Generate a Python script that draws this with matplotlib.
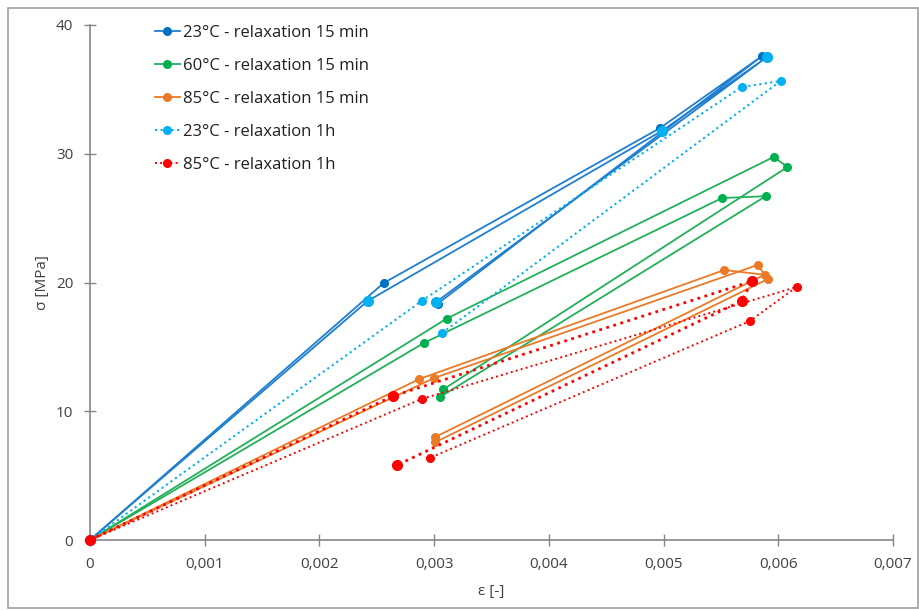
import matplotlib
matplotlib.use("Agg")
import matplotlib.pyplot as plt
from matplotlib.ticker import FuncFormatter, MultipleLocator
from matplotlib.patches import Rectangle

plt.rcParams['font.family'] = ['Open Sans', 'DejaVu Sans']

# 23°C - relaxation 15 min (two cycles)
eps_23_15_a = [0, 0.00256, 0.00497, 0.00586, 0.00303]
sig_23_15_a = [0, 19.96, 32.0, 37.6, 18.35]
eps_23_15_b = [0, 0.00242, 0.00499, 0.00590, 0.00302]
sig_23_15_b = [0, 18.56, 31.8, 37.5, 18.5]

# 60°C - relaxation 15 min
eps_60_15_a = [0, 0.00291, 0.00551, 0.00589, 0.00305]
sig_60_15_a = [0, 15.3, 26.56, 26.7, 11.1]
eps_60_15_b = [0, 0.00311, 0.00596, 0.00608, 0.00308]
sig_60_15_b = [0, 17.2, 29.75, 28.97, 11.7]

# 85°C - relaxation 15 min
eps_85_15_a = [0, 0.00287, 0.00553, 0.00588, 0.00301]
sig_85_15_a = [0, 12.5, 20.97, 20.6, 8.0]
eps_85_15_b = [0, 0.00300, 0.00582, 0.00591, 0.00301]
sig_85_15_b = [0, 12.58, 21.36, 20.27, 7.6]

# 23°C - relaxation 1h
eps_23_1h = [0, 0.00289, 0.00568, 0.00602, 0.00307]
sig_23_1h = [0, 18.56, 35.18, 35.65, 16.08]

# 85°C - relaxation 1h (two cycles)
eps_85_1h_a = [0, 0.00264, 0.00577, 0.00568, 0.00268]
sig_85_1h_a = [0, 11.18, 20.1, 18.56, 5.83]
eps_85_1h_b = [0, 0.00289, 0.00616, 0.00575, 0.00296]
sig_85_1h_b = [0, 10.95, 19.65, 17.0, 6.37]

fig = plt.figure(figsize=(9.2, 6.1), dpi=100)
ax = fig.add_axes([90/920, 1-540/610, (893-90)/920, (540-25)/610])

C_DB = '#0070C0'
C_LB = '#00B0F0'
C_G = '#00B050'
C_O = '#EA7A28'
C_R = '#FF0000'

ax.plot(eps_23_15_a, sig_23_15_a, '-', color='#1F7FCF', lw=1.3, marker='o', ms=5.5,
        mfc=C_DB, mec=C_DB, label='23°C - relaxation 15 min', zorder=3)
ax.plot(eps_23_15_b, sig_23_15_b, '-', color='#1F7FCF', lw=1.3, marker='o', ms=7,
        mfc=C_LB, mec=C_LB, zorder=3)

ax.plot(eps_60_15_a, sig_60_15_a, '-', color='#22B05A', lw=1.3, marker='o', ms=5.5,
        mfc=C_G, mec=C_G, label='60°C - relaxation 15 min', zorder=3)
ax.plot(eps_60_15_b, sig_60_15_b, '-', color='#22B05A', lw=1.3, marker='o', ms=5.5,
        mfc=C_G, mec=C_G, zorder=3)

ax.plot(eps_85_15_a, sig_85_15_a, '-', color=C_O, lw=1.3, marker='o', ms=5.5,
        mfc=C_O, mec=C_O, label='85°C - relaxation 15 min', zorder=3)
ax.plot(eps_85_15_b, sig_85_15_b, '-', color=C_O, lw=1.3, marker='o', ms=5.5,
        mfc=C_O, mec=C_O, zorder=3)

ax.plot(eps_23_1h, sig_23_1h, ':', color=C_LB, lw=1.5, marker='o', ms=5.5,
        mfc=C_LB, mec=C_LB, label='23°C - relaxation 1h', zorder=3)

ax.plot(eps_85_1h_a, sig_85_1h_a, ':', color=C_R, lw=2.0, marker='o', ms=7,
        mfc=C_R, mec=C_R, zorder=4)
ax.plot(eps_85_1h_b, sig_85_1h_b, ':', color=C_R, lw=1.4, marker='o', ms=5.5,
        mfc=C_R, mec=C_R, label='85°C - relaxation 1h', zorder=4)

ax.set_xlim(0, 0.007)
ax.set_ylim(0, 40)
ax.xaxis.set_major_locator(MultipleLocator(0.001))
ax.yaxis.set_major_locator(MultipleLocator(10))

def xfmt(v, pos):
    if abs(v) < 1e-12:
        return '0'
    return ('%.3f' % v).replace('.', ',')

ax.xaxis.set_major_formatter(FuncFormatter(xfmt))
ax.yaxis.set_major_formatter(FuncFormatter(lambda v, p: '%d' % v))

for s in ['top', 'right']:
    ax.spines[s].set_visible(False)
for s in ['left', 'bottom']:
    ax.spines[s].set_color('#868686')
    ax.spines[s].set_linewidth(1.2)
ax.tick_params(axis='both', direction='inout', length=8, width=1, color='#868686',
               labelsize=11, labelcolor='#404040')
ax.tick_params(axis='x', pad=8)
ax.tick_params(axis='y', pad=8)

ax.set_xlabel('ε [-]', fontsize=11, color='#404040', labelpad=9)
ax.set_ylabel('σ [MPa]', fontsize=11, color='#404040', labelpad=4)

for l in ax.get_lines():
    l.set_clip_on(False)

handles, labels = ax.get_legend_handles_labels()
leg = ax.legend(handles, labels, loc='upper left', bbox_to_anchor=(0.0726, 1.0136),
                frameon=False, fontsize=12, labelcolor='#202020', handlelength=1.5,
                handletextpad=0.2, labelspacing=1.03, borderaxespad=0)

fig.patches.append(Rectangle((8/920, 2/610), 910/920, 600/610, transform=fig.transFigure,
                             fill=False, edgecolor='#A0A0A0', lw=1.2))

fig.savefig('out.png', dpi=100)
